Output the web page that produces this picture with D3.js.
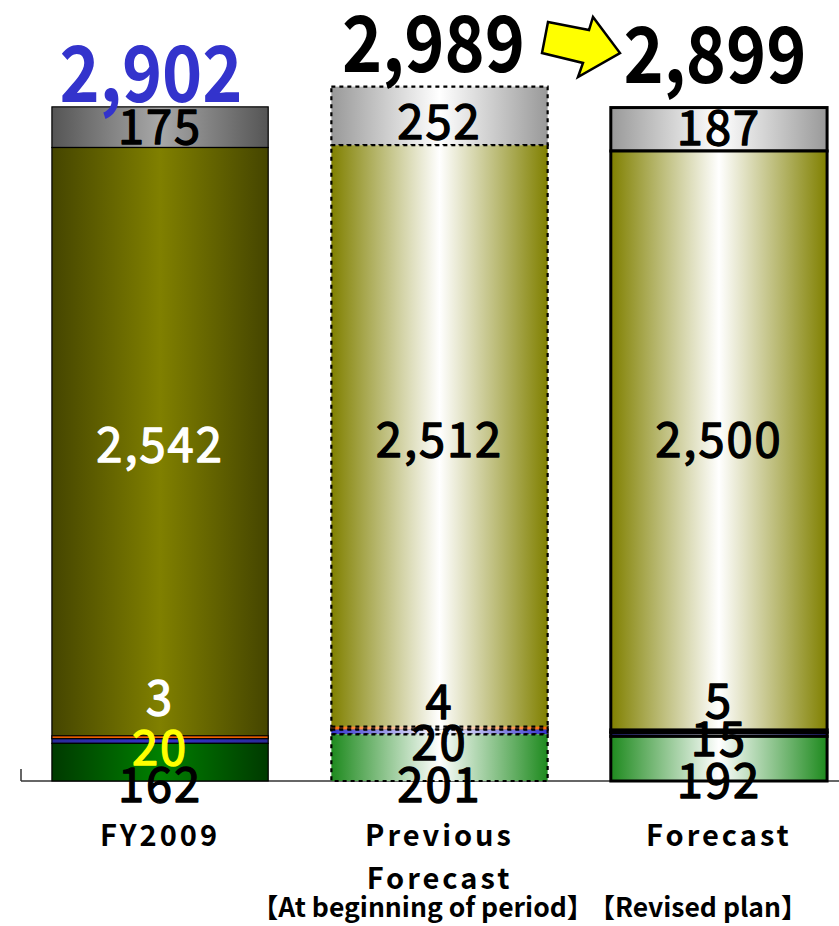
<!DOCTYPE html>
<html><head><meta charset="utf-8">
<script src="https://cdn.jsdelivr.net/npm/d3@7"></script>
<style>body{margin:0;background:#fff;} svg{display:block;}</style>
</head><body>
<svg id="chart" width="839" height="926"></svg>
<script>
// ---------- data ----------
const categories = ["FY2009", "Previous Forecast", "Forecast"];
const categoryLines = [["FY2009"], ["Previous", "Forecast"], ["Forecast"]];
const periodNotes = ["", "【At beginning of period】", "【Revised plan】"];
const seriesKeys = ["s1", "s2", "s3", "s4", "s5"]; // bottom -> top
const s1 = [162, 201, 192];
const s2 = [20, 20, 15];
const s3 = [3, 4, 5];
const s4 = [2542, 2512, 2500];
const s5 = [175, 252, 187];
const yMax = 3000;

// ---------- layout / style config ----------
const W = 839, H = 926;
const baseY = 781, pxPerUnit = 0.2323;
const minSegPx = 3; // thin segments are drawn at least this tall (as the original renderer does)
const labelNudge = [ // per bar, per series (bottom->top), px
  [23, 7, -40, 2, 0],
  [27, 11, -27, 3, 6],
  [22, 4, -31, -1, -1]
];
const totalNudge = [{dx: -9, dy: -5}, {dx: -6, dy: -15}, {dx: -4, dy: -25}];
const totalColors = ["#3333cc", "#000", "#000"];
const labelColors = [
  ["#000", "#ffff00", "#fff", "#fff", "#000"],
  ["#000", "#000", "#000", "#000", "#000"],
  ["#000", "#000", "#000", "#000", "#000"]
];
const darkPalette = { // edge, center
  s1: ["#003a00", "#008000"],
  s2: ["#2a2a99", "#3333cc"],
  s3: ["#e05a00", "#ff6600"],
  s4: ["#454500", "#808000"],
  s5: ["#555555", "#a8a8a8"]
};
const lightPalette = {
  s1: ["#1e8a1e", "#ffffff"],
  s2: ["#3333cc", "#ffffff"],
  s3: ["#ff6600", "#ffffff"],
  s4: ["#808000", "#ffffff"],
  s5: ["#999999", "#ffffff"]
};
const barPalettes = [darkPalette, lightPalette, lightPalette];
const barStrokes = [
  {w: 1.2, dash: null},
  {w: 2.2, dash: "4,4"},
  {w: 3, dash: null}
];
const FONT = "'Noto Sans CJK JP', 'Noto Sans', sans-serif";

// ---------- build ----------
const rows = categories.map((c, i) => ({cat: c, s1: s1[i], s2: s2[i], s3: s3[i], s4: s4[i], s5: s5[i]}));
const stacked = d3.stack().keys(seriesKeys)(rows);
const totals = rows.map(r => d3.sum(seriesKeys, k => r[k]));

const x = d3.scaleBand().domain(categories).range([10, 869]).paddingInner(0.226).paddingOuter(0.15);
const y = d3.scaleLinear().domain([0, yMax]).range([baseY, baseY - yMax * pxPerUnit]);
const fmt = d3.format(",");

const svg = d3.select("#chart");
const defs = svg.append("defs");

categories.forEach((c, bi) => {
  seriesKeys.forEach(k => {
    const [edge, center] = barPalettes[bi][k];
    const g = defs.append("linearGradient").attr("id", `g${bi}_${k}`)
      .attr("x1", 0).attr("x2", 1).attr("y1", 0).attr("y2", 0);
    g.append("stop").attr("offset", "0%").attr("stop-color", edge);
    g.append("stop").attr("offset", "50%").attr("stop-color", center);
    g.append("stop").attr("offset", "100%").attr("stop-color", edge);
  });
});

// axis line + left tick
svg.append("line").attr("x1", 21).attr("x2", W).attr("y1", baseY).attr("y2", baseY)
  .attr("stroke", "#333").attr("stroke-width", 1.5);
svg.append("line").attr("x1", 21).attr("x2", 21).attr("y1", baseY - 12).attr("y2", baseY)
  .attr("stroke", "#333").attr("stroke-width", 1.5);

// bars: draw top layers first so thin lower segments stay visible
const layers = svg.append("g").selectAll("g").data(stacked.slice().reverse()).join("g");
layers.selectAll("rect").data(d => d.map((v, i) => ({v, i, key: d.key})))
  .join("rect")
  .attr("x", d => x(categories[d.i]))
  .attr("width", x.bandwidth())
  .attr("y", d => {
    const h = y(d.v[0]) - y(d.v[1]);
    return h < minSegPx ? y(d.v[0]) - minSegPx : y(d.v[1]);
  })
  .attr("height", d => Math.max(minSegPx, y(d.v[0]) - y(d.v[1])))
  .attr("fill", d => `url(#g${d.i}_${d.key})`)
  .attr("stroke", "#000")
  .attr("stroke-width", d => barStrokes[d.i].w)
  .attr("stroke-dasharray", d => barStrokes[d.i].dash);

// value labels (regular weight thickened slightly by a same-colour outline)
const labelSize = 47;
stacked.forEach((layer, si) => {
  layer.forEach((v, bi) => {
    const cy = (y(v[0]) + y(v[1])) / 2 + labelNudge[bi][si];
    svg.append("text")
      .attr("x", x(categories[bi]) + x.bandwidth() / 2)
      .attr("y", cy + labelSize * 0.36)
      .attr("text-anchor", "middle")
      .attr("font-family", FONT).attr("font-weight", 400)
      .attr("font-size", labelSize).attr("letter-spacing", 2)
      .attr("fill", labelColors[bi][si])
      .attr("stroke", labelColors[bi][si]).attr("stroke-width", 1.3)
      .attr("stroke-linejoin", "round")
      .text(fmt(v.data[layer.key]));
  });
});

// totals
const totalSize = 78;
totals.forEach((t, bi) => {
  svg.append("text")
    .attr("x", x(categories[bi]) + x.bandwidth() / 2 + totalNudge[bi].dx)
    .attr("y", y(t) + totalNudge[bi].dy)
    .attr("text-anchor", "middle")
    .attr("font-family", FONT).attr("font-weight", 700)
    .attr("font-size", totalSize)
    .attr("textLength", 183).attr("lengthAdjust", "spacingAndGlyphs")
    .attr("fill", totalColors[bi])
    .text(fmt(t));
});

// arrow (decorative)
svg.append("path")
  .attr("d", "M548,22 L589,30 L593,17 L620,53 L578,77 L583,63 L542,53 Z")
  .attr("fill", "#ffff00").attr("stroke", "#000").attr("stroke-width", 2.5)
  .attr("stroke-linejoin", "miter");

// category labels
categoryLines.forEach((lines, bi) => {
  lines.forEach((ln, li) => {
    svg.append("text")
      .attr("x", x(categories[bi]) + x.bandwidth() / 2)
      .attr("y", 846 + li * 43)
      .attr("text-anchor", "middle")
      .attr("font-family", FONT).attr("font-weight", 700)
      .attr("font-size", 29).attr("letter-spacing", 3)
      .text(ln);
  });
});
const noteDx = [0, -17, -21];
periodNotes.forEach((n, bi) => {
  if (!n) return;
  svg.append("text")
    .attr("x", x(categories[bi]) + x.bandwidth() / 2 + noteDx[bi])
    .attr("y", 917)
    .attr("text-anchor", "middle")
    .attr("font-family", FONT).attr("font-weight", 700)
    .attr("font-size", 26.5)
    .text(n);
});
</script>
</body></html>
